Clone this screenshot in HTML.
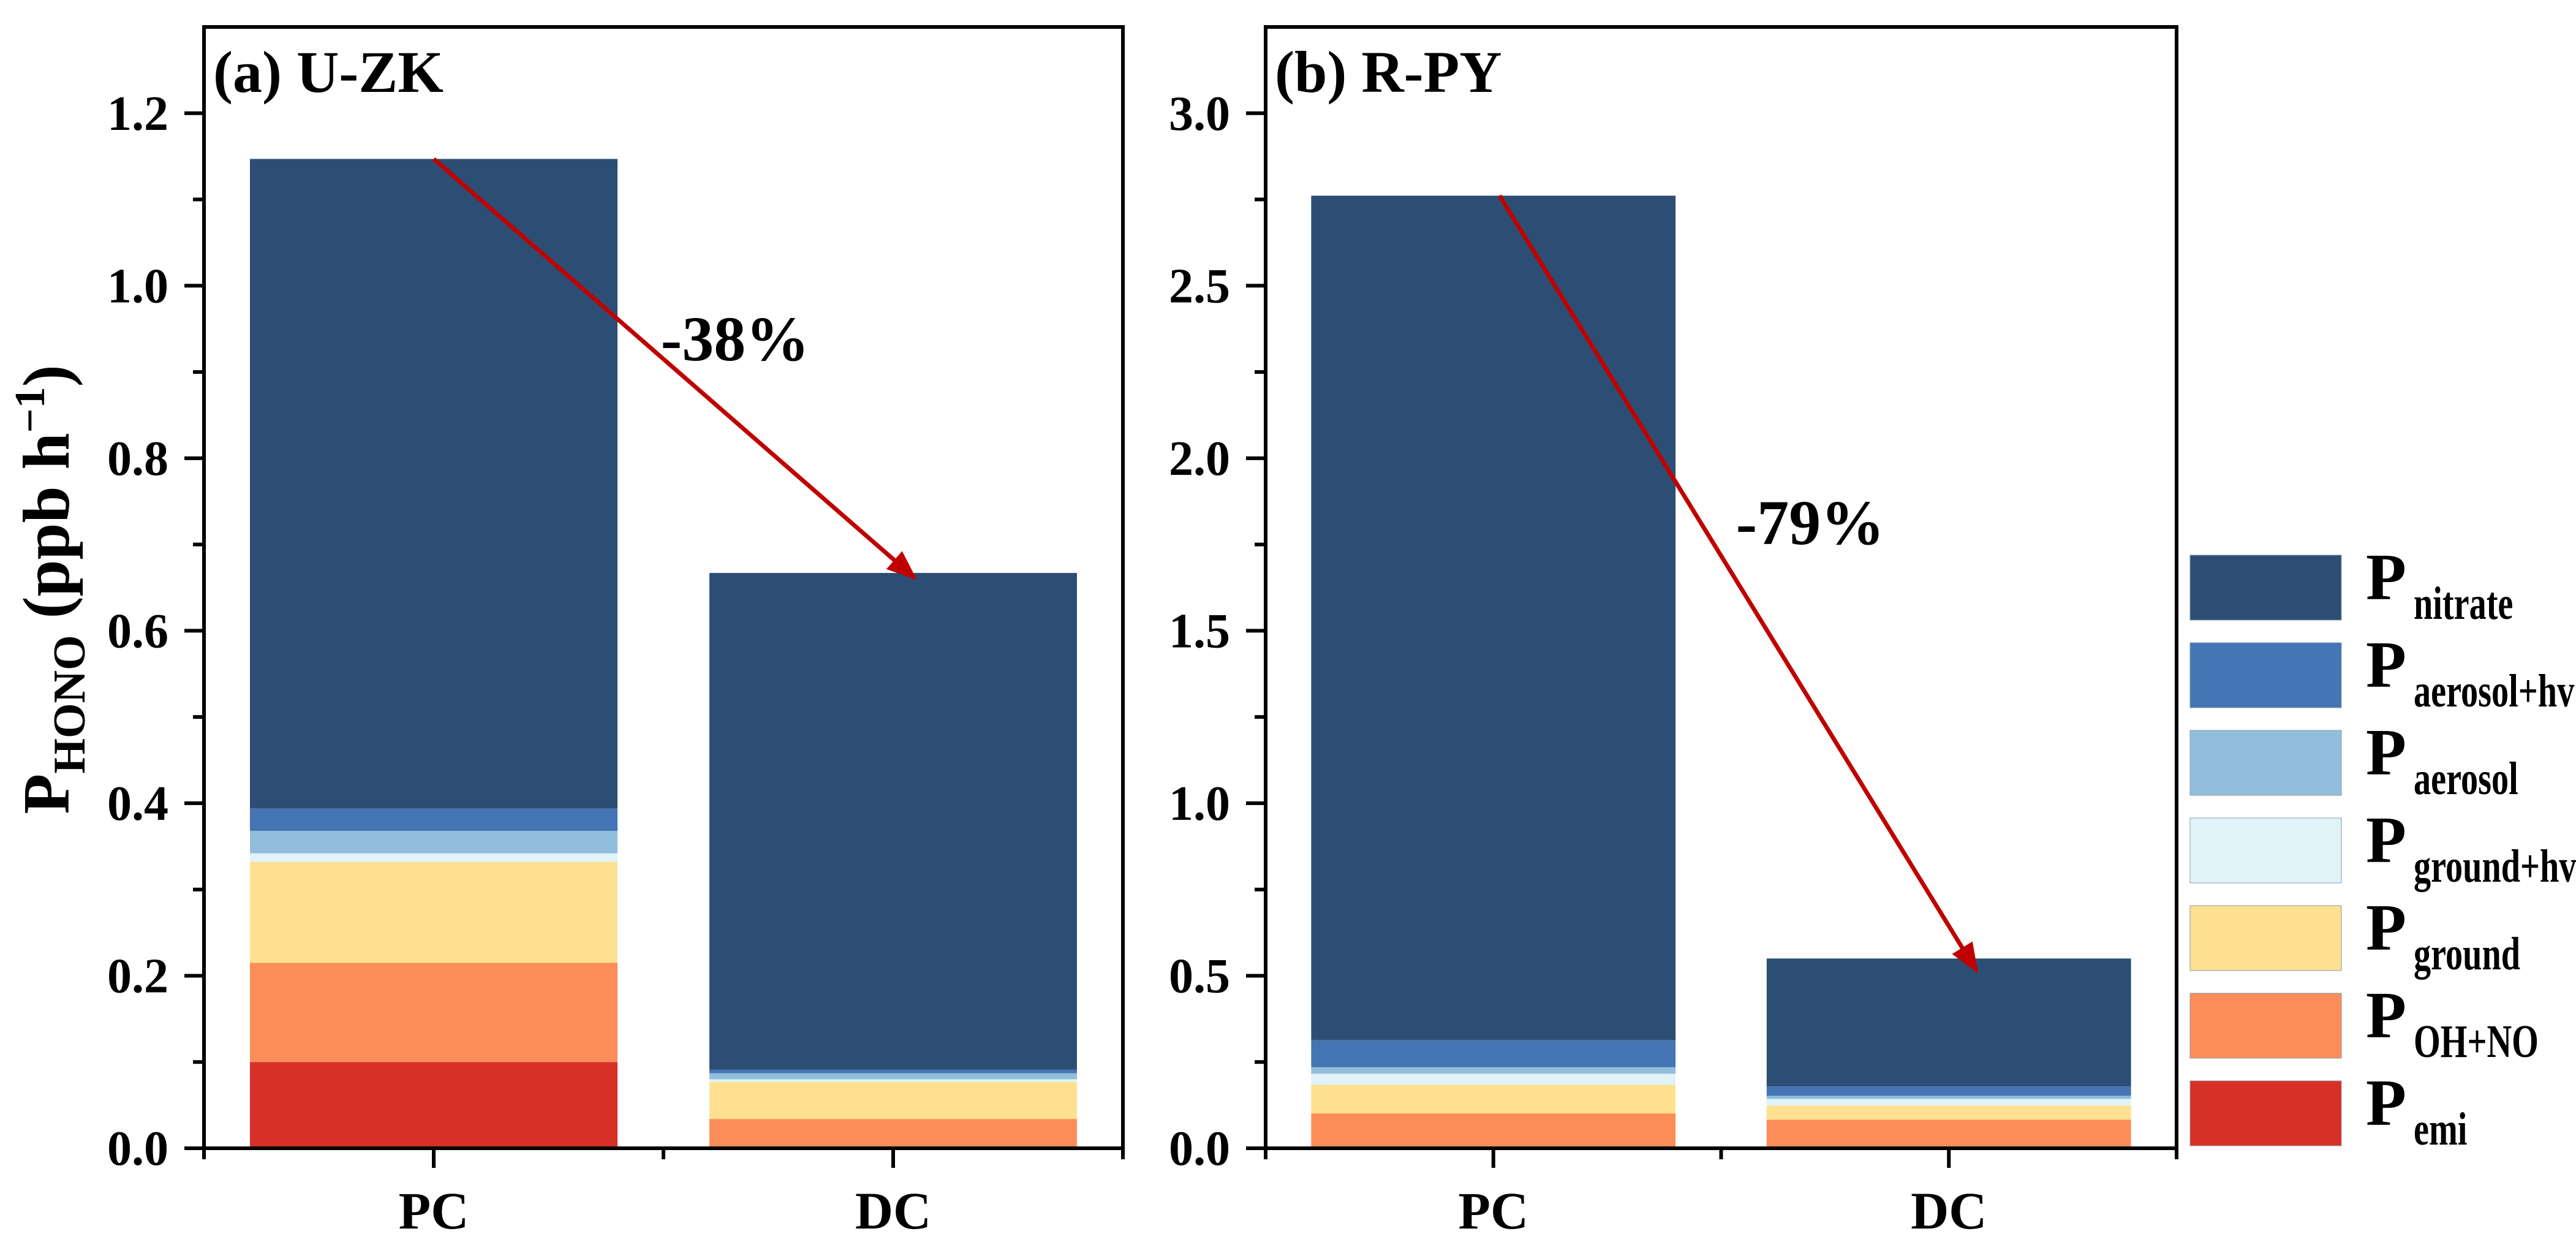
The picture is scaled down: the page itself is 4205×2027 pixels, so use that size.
<!DOCTYPE html>
<html><head><meta charset="utf-8"><style>
html,body{margin:0;padding:0;background:#fff}
svg{display:block;font-family:"Liberation Serif",serif;font-weight:bold}
</style></head><body>
<svg id="chart" width="4205" height="2027" viewBox="0 0 4205 2027" xmlns="http://www.w3.org/2000/svg">
<defs><marker id="ah" viewBox="0 0 10 10" refX="9" refY="5" markerWidth="10" markerHeight="7" markerUnits="strokeWidth" orient="auto"><path d="M0,1 L10,5 L0,9 z" fill="#c00000"/></marker></defs>
<g id="panels"></g>
<g id="legend"></g>
</svg>
<script>
const categories = ["PC","DC"];
const seriesNames = ["emi","OH+NO","ground","ground+hv","aerosol","aerosol+hv","nitrate"];
const colors = ["#d73027","#fc8d59","#fee090","#e0f3f8","#91bfdb","#4575b4","#2d4e74"];
// panel a (U-ZK) segments per category, order = seriesNames
const zkPC = [0.100,0.115,0.117,0.010,0.026,0.026,0.753];
const zkDC = [0.000,0.034,0.043,0.003,0.007,0.004,0.576];
// panel b (R-PY)
const pyPC = [0.000,0.101,0.083,0.032,0.019,0.078,2.448];
const pyDC = [0.000,0.083,0.041,0.019,0.009,0.027,0.371];
const zkTicks = ["0.0","0.2","0.4","0.6","0.8","1.0","1.2"];
const pyTicks = ["0.0","0.5","1.0","1.5","2.0","2.5","3.0"];
const changeLabels = ["-38%","-79%"];

const NS="http://www.w3.org/2000/svg";
function mk(tag,attrs,parent,text){const e=document.createElementNS(NS,tag);for(const k in attrs)e.setAttribute(k,attrs[k]);if(text!==undefined)e.textContent=text;parent.appendChild(e);return e;}
const root=document.getElementById('panels');

const panels=[
 {id:"a",title:"(a) U-ZK",data:[zkPC,zkDC],ticks:zkTicks,ymax:1.3,x0:333,x1:1833,y0:1874,y1:44,labX:275,pct:changeLabels[0],pctX:1200,pctY:588},
 {id:"b",title:"(b) R-PY",data:[pyPC,pyDC],ticks:pyTicks,ymax:3.25,x0:2066,x1:3553,y0:1874,y1:44,labX:2008,pct:changeLabels[1],pctX:2955,pctY:888}
];
panels.forEach(p=>{
  const g=mk('g',{},root);
  
  
  const y=v=>p.y0-(v/p.ymax)*(p.y0-p.y1);
  const step=(p.x1-p.x0)/2;
  const x=i=>p.x0+step*(i+0.5);
  const bw=step*0.8;
  const tops=[];
  p.data.forEach((seg,ci)=>{
    let acc=0;
    seg.forEach((v,si)=>{
      if(v<=0)return;
      const r=mk('rect',{x:x(ci)-bw/2,y:y(acc+v),width:bw,height:y(acc)-y(acc+v),fill:colors[si]},g);
      
      
      acc+=v;
    });
    tops.push(acc);
  });
  mk('rect',{x:p.x0,y:p.y1,width:p.x1-p.x0,height:p.y0-p.y1,fill:"none",stroke:"#000","stroke-width":6},g);
  p.ticks.forEach((t,i)=>{
    const v=parseFloat(t); const yy=y(v);
    mk('line',{x1:p.x0-32,x2:p.x0,y1:yy,y2:yy,stroke:"#000","stroke-width":6},g);
    const tl=mk('text',{x:p.labX,y:yy+27,"font-size":80,"text-anchor":"end"},g,t);
    
    
    if(i<p.ticks.length-1){const mv=(v+parseFloat(p.ticks[i+1]))/2;mk('line',{x1:p.x0-18,x2:p.x0,y1:y(mv),y2:y(mv),stroke:"#000","stroke-width":6},g);}
  });
  [p.x0,p.x0+step,p.x1].forEach(xx=>mk('line',{x1:xx,x2:xx,y1:p.y0,y2:p.y0+18,stroke:"#000","stroke-width":6},g));
  categories.forEach((c,i)=>{
    mk('line',{x1:x(i),x2:x(i),y1:p.y0,y2:p.y0+32,stroke:"#000","stroke-width":6},g);
    const t=mk('text',{x:x(i),y:2005,"font-size":86,"text-anchor":"middle"},g,c);
    
    
  });
  const tt=mk('text',{x:p.x0+15,y:150,"font-size":96},g,p.title);
  
  
  const ar=mk('line',{x1:x(0)+(p.id==="a"?0:10),y1:y(tops[0]),x2:x(1)+(p.id==="a"?35:45),y2:y(tops[1])+(p.id==="a"?8:20),stroke:"#c00000","stroke-width":7,"marker-end":"url(#ah)"},g);
  
  
  const pt=mk('text',{x:p.pctX,y:p.pctY,"font-size":104,"text-anchor":"middle"},g,p.pct);
  
  
});
const yt=mk('text',{transform:"translate(112,962) rotate(-90)","font-size":108,"text-anchor":"middle"},root);


mk('tspan',{},yt,"P");
mk('tspan',{"font-size":74,dy:26},yt,"HONO");
mk('tspan',{dy:-26},yt," (ppb h");
mk('tspan',{"font-size":70,dy:-40},yt,"−1");
mk('tspan',{dy:40},yt,")");
const lg=document.getElementById('legend');
for(let k=0;k<7;k++){
  const si=6-k; const yy=906+k*143;
  const r=mk('rect',{x:3575,y:yy,width:247,height:106,fill:colors[si],stroke:"#8899aa","stroke-width":1},lg);
  
  
  const t=mk('text',{x:3862,y:yy+72,"font-size":108},lg,"P");
  
  
  const s=mk('text',{transform:`translate(3940,${yy+104}) scale(0.74,1)`,"font-size":76},lg,seriesNames[si]);
  
  
}
</script>
</body></html>
